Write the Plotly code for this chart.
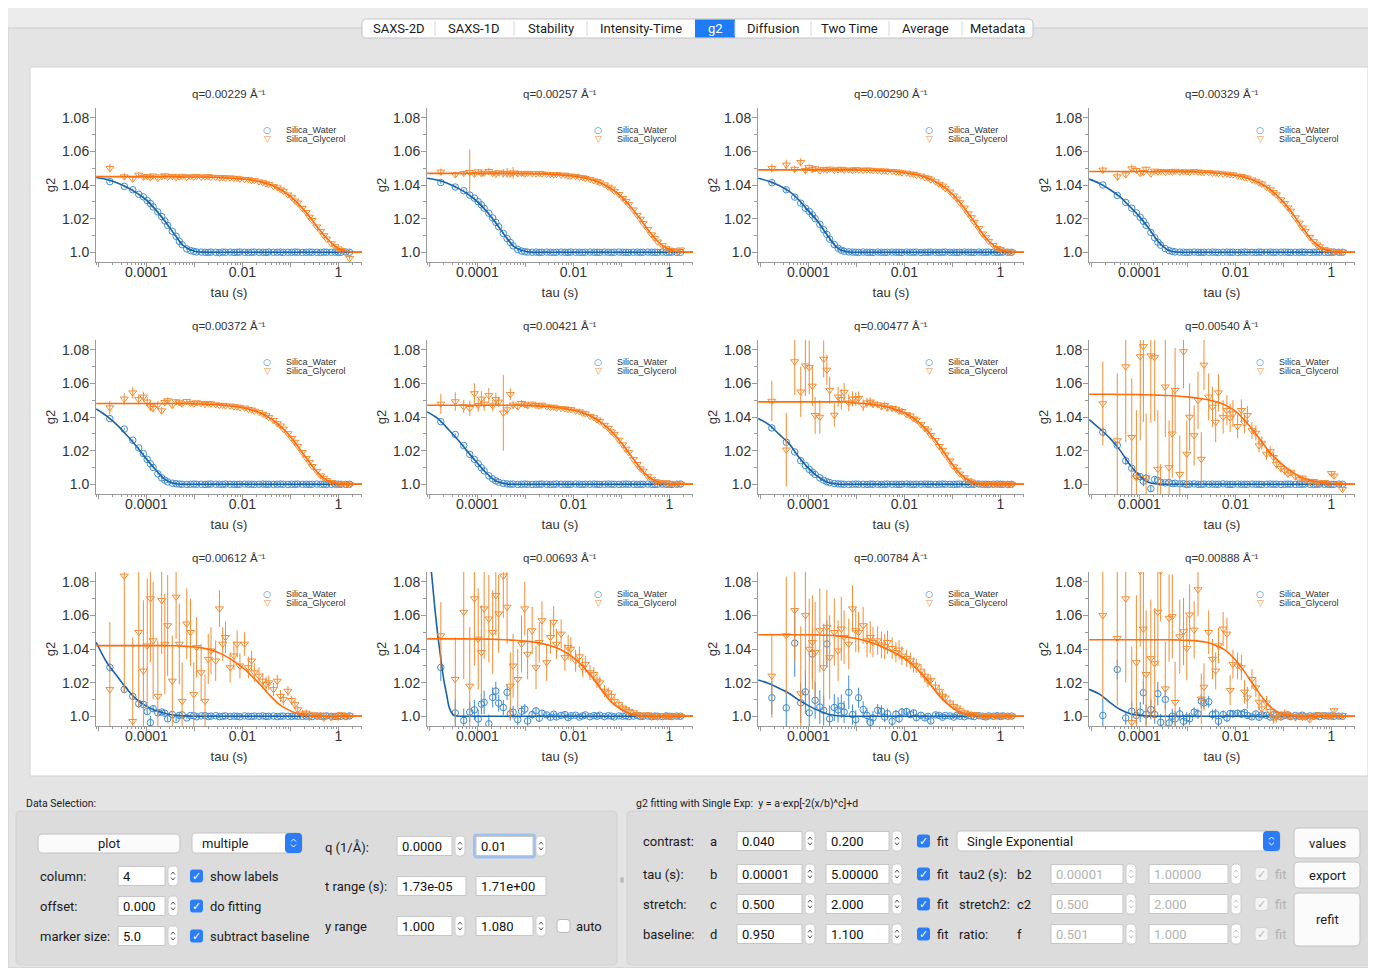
import plotly.graph_objects as go

# the browser keeps its 8 px body margin, the figure fills the rest of the 1376x968 window
OFF = 8
W, H = 1368, 960

# ---------------------------------------------------------------- data
# multi-tau lag times (s)
TAU = [1.73e-5, 3.46e-5, 5.19e-5, 6.92e-5, 8.65e-5, 1.04e-4, 1.21e-4, 1.38e-4,
       1.73e-4, 2.08e-4, 2.42e-4, 2.77e-4, 3.46e-4, 4.15e-4, 4.84e-4, 5.54e-4,
       6.92e-4, 8.30e-4, 9.69e-4, 1.11e-3, 1.38e-3, 1.66e-3, 1.94e-3, 2.21e-3,
       2.77e-3, 3.32e-3, 3.88e-3, 4.43e-3, 5.54e-3, 6.64e-3, 7.75e-3, 8.86e-3,
       1.11e-2, 1.33e-2, 1.55e-2, 1.77e-2, 2.21e-2, 2.66e-2, 3.10e-2, 3.54e-2,
       4.43e-2, 5.31e-2, 6.20e-2, 7.09e-2, 8.86e-2, 0.106, 0.124, 0.142,
       0.177, 0.213, 0.248, 0.283, 0.354, 0.425, 0.496, 0.567,
       0.709, 0.850, 0.992, 1.13, 1.42, 1.70]

# times at which the fitted curves were sampled (s)
FIT_TAU = [9e-6, 1.5e-5, 2.5e-5, 4e-5, 6e-5, 1e-4, 1.5e-4, 2.5e-4, 4e-4, 6e-4,
           1e-3, 1.5e-3, 2.5e-3, 4e-3, 6e-3, 1e-2, 1.5e-2, 2.5e-2, 4e-2, 6e-2,
           0.1, 0.15, 0.25, 0.4, 0.6, 1.0, 1.5, 2.5, 3.2]
W10_FIT_TAU = [9e-6, 1.1e-5, 1.3e-5, 1.5e-5, 1.75e-5, 2e-5, 2.3e-5, 2.6e-5, 3e-5,
               3.5e-5, 4.5e-5, 1e-4, 3.2]

Q_LABELS = ['0.00229', '0.00257', '0.00290', '0.00329', '0.00372', '0.00421',
            '0.00477', '0.00540', '0.00612', '0.00693', '0.00784', '0.00888']

# all g2 values below are (g2 - 1) in units of 1e-4; W = Silica_Water, G = Silica_Glycerol
W1 = [420, 392, 372, 345, 330, 308, 290, 270, 240, 212, 186, 160, 125, 95, 65, 45, 20, 10, 5, 2,
      1, 0, -1, 1, 0, -2, 1, 0, 1, -1, 0, 1, 0, -1, 0, 1, 0, 0, -1, 1,
      0, 0, 1, -1, 0, 0, 1, 0, -1, 0, 1, 0, 0, -1, 1, 0, 0, 1, -1, 0, 1, 0]
W1_ERR = 6
W1_FIT = [445, 433, 412, 385, 356, 310, 258, 180, 100, 38, 6, 1, 0, 0, 0,
          0, 0, 0, 0, 0, 0, 0, 0, 0, 0, 0, 0, 0, 0]
G1 = [500, 450, 436, 460, 448, 452, 444, 455, 440, 450, 456, 447, 452, 445, 449, 453, 446, 450, 448, 452,
      447, 449, 451, 446, 447, 443, 446, 442, 444, 440, 441, 436, 434, 433, 428, 427, 420, 415, 408, 404,
      392, 385, 373, 364, 342, 328, 306, 294, 262, 238, 210, 190, 152, 126, 100, 80, 52, 34, 21, 12, 5, -36]
G1_ERR = [25, 20, 18, 15, 15, 12, 12, 10, 10, 8, 8, 8, 8, 8, 8, 8, 6, 6, 6, 6,
          6, 6, 6, 6, 5, 5, 5, 5, 5, 5, 5, 5, 5, 5, 5, 5, 4, 4, 4, 4,
          4, 4, 4, 4, 4, 4, 4, 4, 4, 4, 4, 4, 4, 4, 4, 4, 4, 4, 4, 4, 4, 8]
G1_FIT = [450, 450, 450, 450, 450, 450, 450, 449, 449, 448, 448, 447, 446, 444, 440,
          435, 430, 417, 399, 375, 333, 285, 211, 134, 77, 22, 5, 0, 0]

W2 = [415, 388, 366, 340, 322, 300, 282, 262, 232, 204, 178, 152, 112, 82, 58, 38, 16, 7, 3, 1,
      0, 1, -1, 0, 1, 0, -1, 0, 1, 0, -1, 1, 0, 0, -1, 0, 1, 0, 0, -1,
      1, 0, -1, 0, 1, 0, 0, -1, 0, 1, -1, 0, 1, 0, 0, -1, 1, 0, 0, 1, -1, 0]
W2_ERR = 8
W2_FIT = [440, 428, 408, 380, 350, 300, 248, 168, 88, 30, 4, 0, 0, 0, 0,
          0, 0, 0, 0, 0, 0, 0, 0, 0, 0, 0, 0, 0, 0]
G2 = [478, 462, 470, 476, 465, 480, 468, 472, 482, 470, 466, 474, 469, 471, 467, 473, 468, 470, 466, 471,
      469, 468, 470, 467, 465, 463, 462, 464, 459, 460, 455, 454, 452, 446, 445, 440, 435, 426, 422, 414,
      402, 389, 378, 364, 345, 322, 304, 284, 253, 221, 198, 172, 137, 105, 84, 62, 40, 23, 14, 10, 8, 15]
G2_ERR = [20, 18, 15, 135, 15, 12, 14, 12, 20, 12, 10, 10, 25, 30, 20, 35, 20, 15, 12, 8,
          8, 8, 8, 8, 8, 8, 8, 8, 8, 8, 8, 4, 4, 4, 4, 4, 4, 4, 4, 4,
          4, 4, 4, 4, 4, 4, 4, 4, 4, 4, 4, 4, 4, 4, 4, 4, 4, 4, 4, 4, 4, 6]
G2_FIT = [469, 469, 469, 469, 469, 469, 469, 469, 469, 469, 468, 467, 466, 463, 459,
          453, 445, 430, 408, 380, 331, 277, 195, 115, 58, 15, 3, 0, 0]

W3 = [414, 372, 328, 292, 262, 243, 222, 200, 166, 134, 106, 78, 46, 24, 12, 6, 2, 1, 0, -1,
      1, 0, 0, -1, 1, 0, -1, 0, 1, 0, 0, -1, 1, 0, 0, 1, -1, 0, 0, 1,
      0, -1, 0, 1, 0, 0, -1, 0, 1, 0, 0, -1, 1, 0, 0, 1, 0, -1, 0, 1, 0, 0]
W3_ERR = 12
W3_FIT = [440, 422, 395, 362, 318, 245, 190, 100, 26, 4, 0, 0, 0, 0, 0,
          0, 0, 0, 0, 0, 0, 0, 0, 0, 0, 0, 0, 0, 0]
G3 = [500, 520, 495, 535, 488, 505, 492, 498, 485, 494, 490, 496, 488, 492, 495, 489, 491, 487, 493, 490,
      488, 491, 489, 487, 486, 483, 485, 481, 482, 478, 478, 473, 472, 466, 465, 459, 454, 445, 441, 431,
      420, 406, 395, 380, 360, 336, 318, 296, 264, 230, 207, 180, 143, 110, 88, 66, 42, 24, 17, 8, 5, 2]
G3_ERR = [25, 30, 20, 25, 20, 18, 15, 15, 10, 10, 10, 10, 10, 10, 10, 10, 7, 7, 7, 7,
          7, 7, 7, 7, 4, 4, 4, 4, 4, 4, 4, 4, 4, 4, 4, 4, 4, 4, 4, 4,
          4, 4, 4, 4, 4, 4, 4, 4, 4, 4, 4, 4, 4, 4, 4, 4, 4, 4, 4, 4, 4, 4]
G3_FIT = [490, 490, 490, 490, 490, 490, 490, 490, 490, 490, 490, 488, 487, 484, 480,
          473, 465, 449, 426, 397, 345, 289, 204, 120, 60, 15, 3, 0, 0]

W4 = [400, 338, 296, 262, 234, 208, 184, 160, 118, 86, 60, 42, 22, 10, 5, 2, 1, 0, -1, 0,
      1, 0, -1, 0, 0, 1, 0, -1, 0, 1, 0, 0, -1, 0, 1, 0, 0, -1, 1, 0,
      0, 1, -1, 0, 0, 1, 0, -1, 0, 0, 1, 0, -1, 0, 1, 0, 0, -1, 0, 1, 0, 0]
W4_ERR = 6
W4_FIT = [435, 408, 370, 328, 278, 212, 150, 62, 12, 1, 0, 0, 0, 0, 0,
          0, 0, 0, 0, 0, 0, 0, 0, 0, 0, 0, 0, 0, 0]
G4 = [490, 450, 462, 498, 488, 470, 476, 495, 466, 484, 478, 482, 476, 481, 478, 483, 477, 480, 479, 476,
      481, 478, 477, 476, 475, 471, 472, 469, 466, 466, 462, 461, 454, 452, 445, 442, 431, 424, 413, 407,
      388, 373, 356, 343, 313, 291, 265, 246, 206, 175, 146, 126, 90, 64, 45, 34, 17, 10, 5, 3, 1, 4]
G4_ERR = [20, 25, 20, 25, 15, 15, 12, 15, 8, 8, 8, 8, 8, 8, 8, 8, 6, 6, 6, 6,
          6, 6, 6, 6, 4, 4, 4, 4, 4, 4, 4, 4, 4, 4, 4, 4, 4, 4, 4, 4,
          4, 4, 4, 4, 4, 4, 4, 4, 4, 4, 4, 4, 4, 4, 4, 4, 4, 4, 4, 4, 4, 4]
G4_FIT = [480, 480, 480, 480, 480, 480, 480, 480, 480, 480, 479, 478, 476, 471, 466,
          457, 447, 426, 397, 361, 298, 235, 145, 70, 28, 4, 0, 0, 0]

W5 = [390, 328, 262, 216, 182, 148, 122, 100, 62, 38, 24, 14, 6, 3, 1, 0, -1, 0, 1, 0,
      0, -1, 0, 1, 0, 0, -1, 1, 0, 0, -1, 0, 1, 0, 0, -1, 0, 1, 0, 0,
      -1, 0, 1, 0, -1, 0, 0, 1, 0, 0, -1, 0, 1, 0, 0, -1, 0, 1, 0, 0, -1, 0]
W5_ERR = 6
W5_FIT = [448, 405, 350, 288, 230, 150, 92, 26, 3, 0, 0, 0, 0, 0, 0,
          0, 0, 0, 0, 0, 0, 0, 0, 0, 0, 0, 0, 0, 0]
G5 = [456, 508, 545, 505, 520, 490, 462, 452, 470, 438, 488, 498, 470, 492, 486, 478, 494, 483, 478, 486,
      481, 476, 482, 479, 474, 470, 471, 467, 467, 462, 461, 456, 454, 446, 443, 436, 429, 417, 409, 398,
      381, 362, 348, 329, 302, 274, 251, 227, 190, 155, 132, 107, 78, 51, 37, 23, 12, 7, 2, 4, 1, -2]
G5_ERR = [40, 35, 35, 30, 30, 30, 28, 25, 25, 22, 20, 18, 15, 15, 12, 12, 8, 8, 8, 8,
          8, 8, 8, 8, 5, 5, 5, 5, 5, 5, 5, 5, 5, 5, 5, 5, 4, 4, 4, 4,
          4, 4, 4, 4, 4, 4, 4, 4, 4, 4, 4, 4, 4, 4, 4, 4, 4, 4, 4, 4, 4, 4]
G5_FIT = [480, 480, 480, 480, 480, 480, 480, 480, 480, 480, 478, 477, 474, 470, 465,
          455, 443, 421, 389, 349, 283, 215, 129, 59, 21, 2, 0, 0, 0]

W6 = [372, 296, 230, 178, 148, 122, 98, 80, 50, 32, 20, 12, 5, 2, 0, 1, -1, 0, 1, 0,
      -1, 0, 0, 1, 0, -1, 0, 1, 0, 0, -1, 0, 1, 0, -1, 0, 0, 1, 0, -1,
      0, 1, 0, 0, -1, 0, 1, 0, 0, -1, 0, 0, 1, 0, -1, 0, 1, 0, 0, -1, 0, 1]
W6_ERR = 6
W6_FIT = [430, 390, 326, 262, 200, 125, 70, 18, 2, 0, 0, 0, 0, 0, 0,
          0, 0, 0, 0, 0, 0, 0, 0, 0, 0, 0, 0, 0, 0]
G6 = [478, 492, 462, 452, 540, 470, 508, 478, 528, 468, 505, 490, 425, 444, 535, 472, 462, 482, 474, 468,
      478, 470, 466, 472, 462, 458, 460, 454, 452, 450, 446, 445, 436, 432, 424, 420, 405, 397, 384, 375,
      352, 334, 313, 298, 264, 236, 210, 189, 148, 119, 93, 79, 47, 31, 18, 13, 8, 10, 4, 6, 3, 2]
G6_ERR = [60, 55, 40, 45, 60, 40, 45, 40, 45, 35, 40, 30, 225, 30, 35, 25, 20, 18, 15, 15,
          10, 10, 10, 10, 8, 8, 8, 8, 8, 8, 8, 8, 8, 8, 8, 8, 6, 6, 6, 6,
          6, 6, 6, 6, 6, 6, 6, 6, 6, 6, 6, 6, 6, 6, 6, 6, 6, 6, 6, 6, 6, 6]
G6_FIT = [470, 470, 470, 470, 470, 470, 470, 470, 470, 470, 469, 467, 464, 458, 452,
          440, 427, 400, 362, 318, 246, 178, 93, 36, 10, 1, 0, 0, 0]

W7 = [335, 250, 192, 140, 112, 88, 72, 58, 38, 24, 15, 10, 4, 2, 1, 0, -1, 0, 1, 0,
      0, -1, 1, 0, 0, -1, 0, 1, 0, 0, -1, 0, 1, 0, -1, 0, 0, 1, 0, 0,
      -1, 0, 1, 0, 0, -1, 0, 1, 0, -1, 0, 0, 1, 0, 0, -1, 0, 1, 0, 0, -1, 0]
W7_ERR = 8
W7_FIT = [392, 355, 295, 240, 170, 96, 50, 12, 1, 0, 0, 0, 0, 0, 0,
          0, 0, 0, 0, 0, 0, 0, 0, 0, 0, 0, 0, 0, 0]
G7 = [495, 205, 730, 550, 705, 695, 585, 410, 400, 745, 680, 560, 412, 520, 505, 548, 485, 508, 506, 512,
      470, 485, 490, 478, 474, 462, 470, 455, 452, 448, 436, 434, 415, 408, 390, 382, 356, 332, 318, 292,
      262, 226, 203, 176, 140, 105, 85, 62, 40, 22, 15, 8, 4, 2, 0, -2, 1, -1, 2, 0, 3, 1]
G7_ERR = [120, 220, 200, 150, 180, 160, 120, 110, 100, 110, 90, 80, 70, 60, 60, 55, 50, 45, 40, 40,
          35, 30, 28, 25, 20, 20, 20, 20, 20, 20, 20, 20, 14, 14, 14, 14, 14, 14, 14, 14,
          10, 10, 10, 10, 10, 10, 10, 10, 8, 8, 8, 8, 8, 8, 8, 8, 8, 8, 8, 8, 8, 8]
G7_FIT = [490, 490, 490, 490, 490, 490, 490, 490, 490, 489, 483, 480, 473, 463, 448,
          425, 395, 343, 276, 208, 118, 57, 14, 1, 0, 0, 0, 0, 0]

W8 = [310, 232, 140, 95, 52, 45, 18, 36, -26, 28, 22, 12, 8, 10, 4, 6, 2, 3, -2, 1,
      2, 0, -1, 1, 0, 1, -1, 0, 2, 0, -1, 0, 1, 0, 0, -1, 1, 0, 0, -1,
      0, 1, 0, 0, -1, 0, 1, 0, -1, 0, 0, 1, 0, -1, 0, 1, 0, 0, -1, 0, 1, 0]
W8_ERR = [30, 25, 25, 20, 25, 20, 30, 25, 20, 15, 15, 12, 10, 10, 8, 8, 6, 6, 6, 6,
          6, 6, 6, 6, 4, 4, 4, 4, 4, 4, 4, 4, 4, 4, 4, 4, 4, 4, 4, 4,
          4, 4, 4, 4, 4, 4, 4, 4, 4, 4, 4, 4, 4, 4, 4, 4, 4, 4, 4, 4, 4, 4]
W8_FIT = [385, 330, 270, 200, 125, 52, 14, 1, 0, 0, 0, 0, 0, 0, 0,
          0, 0, 0, 0, 0, 0, 0, 0, 0, 0, 0, 0, 0, 0]
G8 = [480, 260, 700, 280, 40, 760, 820, 40, 765, 755, 90, -180, 580, 100, 300, 560, 60, 790, 180, 400,
      290, 500, 150, 710, 520, 460, 370, 545, 400, 440, 395, 420, 345, 440, 365, 410, 320, 305, 230, 245,
      180, 195, 160, 120, 95, 80, 62, 70, 45, 30, 38, 22, 14, 18, 8, 5, 12, 4, 65, 50, 0, -30]
G8_ERR = [250, 400, 450, 350, 400, 500, 450, 380, 400, 380, 350, 300, 300, 280, 260, 250, 230, 220, 200, 200,
          180, 170, 160, 150, 140, 120, 120, 110, 100, 90, 85, 80, 70, 65, 60, 55, 50, 45, 40, 40,
          35, 32, 30, 28, 25, 22, 20, 20, 18, 16, 15, 15, 14, 13, 12, 12, 12, 12, 15, 15, 12, 12]
G8_FIT = [535, 535, 535, 534, 534, 533, 532, 530, 528, 525, 520, 514, 504, 490, 472,
          435, 385, 310, 232, 170, 112, 74, 38, 20, 11, 4, 1, 0, 0]

W9 = [290, 160, 118, 75, 70, 28, -38, 45, 20, 25, 18, -15, 10, -18, 5, 8, -10, 4, 3, -3,
      2, 4, -2, 1, 3, -2, 0, 2, -1, 1, 0, -3, 2, 0, -1, 1, 0, 2, -1, 0,
      1, -2, 0, 1, 0, -1, 2, 0, -1, 1, 0, -2, 1, 0, -1, 2, 0, -1, 1, 0, -1, 2]
W9_ERR = [25, 20, 20, 25, 25, 20, 40, 20, 18, 15, 15, 15, 12, 12, 10, 10, 8, 8, 8, 8,
          8, 8, 8, 8, 5, 5, 5, 5, 5, 5, 5, 5, 5, 5, 5, 5, 5, 5, 5, 5,
          5, 5, 5, 5, 5, 5, 5, 5, 5, 5, 5, 5, 5, 5, 5, 5, 5, 5, 5, 5, 5, 5]
W9_FIT = [440, 320, 235, 160, 105, 60, 36, 16, 6, 2, 0, 0, 0, 0, 0,
          0, 0, 0, 0, 0, 0, 0, 0, 0, 0, 0, 0, 0, 0]
G9 = [160, 835, -30, 500, 270, 420, 700, 450, 120, 690, 430, 540, 210, 710, 430, 90, 550, 500, 130, 410,
      260, 90, 340, 390, 330, 640, 430, 470, 290, 360, 430, 300, 430, 290, 330, 260, 240, 210, 190, 200,
      160, 210, 120, 100, 150, 95, 70, 40, 14, 20, -5, 10, 0, 8, -10, 5, -8, 3, -5, 10, 0, 5]
G9_ERR = [400, 700, 500, 450, 420, 400, 380, 350, 330, 320, 300, 300, 270, 250, 240, 230, 210, 200, 190, 180,
          170, 160, 150, 140, 120, 110, 100, 95, 90, 85, 80, 75, 70, 65, 60, 55, 50, 48, 45, 42,
          40, 38, 35, 32, 30, 28, 26, 24, 22, 20, 18, 17, 16, 15, 14, 14, 13, 13, 12, 12, 12, 12]
G9_FIT = [420, 420, 420, 420, 420, 420, 420, 420, 419, 417, 412, 405, 390, 365, 335,
          290, 245, 180, 115, 68, 32, 13, 3, 0, 0, 0, 0, 0, 0]

W10 = [290, 20, -25, 25, 38, -16, 72, 82, -45, 112, 150, 78, 52, 142, 14, 24, -20, 30, 42, -28,
       10, 32, -12, 18, 8, -6, 12, -4, 5, 10, -8, 3, 6, -5, 2, 8, -3, 4, 0, 6,
       -2, 3, 1, -4, 2, 0, 3, -2, 1, 4, -1, 0, 2, -3, 1, 0, -2, 2, 0, -1, 1, 0]
W10_ERR = [80, 80, 70, 60, 60, 55, 60, 70, 55, 60, 55, 50, 45, 45, 40, 38, 35, 32, 30, 28,
           25, 22, 20, 18, 15, 15, 15, 15, 15, 15, 15, 15, 12, 12, 12, 12, 12, 12, 12, 12,
           10, 10, 10, 10, 10, 10, 10, 10, 8, 8, 8, 8, 8, 8, 8, 8, 8, 8, 8, 8, 8, 8]
W10_FIT = [1100, 860, 640, 480, 330, 215, 125, 50, 14, 3, 0, 0, 0]
G10 = [480, 220, 620, 180, 700, 460, 380, 640, 580, 500, 720, 610, 835, 650, 180, 300, 220, 430, 640, 370,
       510, 290, 440, 570, 320, 470, 560, 430, 490, 350, 410, 400, 330, 355, 290, 310, 260, 250, 210, 200,
       150, 140, 120, 90, 70, 50, 40, 30, 22, 12, 8, 4, 10, 2, 5, -4, 6, 0, 3, -3, 2, 0]
G10_ERR = [200, 250, 400, 350, 400, 300, 280, 300, 260, 250, 240, 230, 250, 220, 200, 190, 180, 170, 160, 150,
           140, 130, 120, 115, 110, 100, 95, 90, 85, 80, 75, 70, 65, 60, 55, 50, 45, 42, 40, 38,
           35, 32, 30, 28, 26, 24, 22, 20, 18, 17, 16, 15, 14, 13, 13, 12, 12, 12, 12, 11, 11, 11]
G10_FIT = [460, 460, 460, 460, 460, 459, 459, 457, 455, 452, 447, 441, 429, 412, 390,
           349, 303, 229, 151, 87, 40, 15, 4, 0, 0, 0, 0, 0, 0]

W11 = [110, 50, 435, 80, 145, 20, 370, 95, 55, 35, 430, -15, 52, 38, 60, 25, 142, 10, -20, 110,
       40, 5, -36, -10, 35, 30, -5, 15, -30, 12, -15, 25, 28, 10, 20, -8, 6, -10, 0, -28,
       8, 5, -6, 4, 2, -5, 6, 0, -3, 4, 1, -2, 3, 0, -4, 2, 0, 3, -1, 2, 0, 1]
W11_ERR = [100, 110, 200, 120, 130, 110, 150, 110, 100, 90, 140, 80, 80, 75, 70, 65, 100, 60, 55, 60,
           50, 45, 40, 40, 38, 35, 30, 30, 28, 26, 25, 24, 22, 20, 20, 18, 17, 16, 15, 15,
           14, 13, 13, 12, 12, 11, 11, 10, 10, 10, 10, 9, 9, 9, 9, 9, 9, 8, 8, 8, 8, 8]
W11_FIT = [216, 195, 165, 135, 100, 63, 38, 14, 3, 0, 0, 0, 0, 0, 0,
           0, 0, 0, 0, 0, 0, 0, 0, 0, 0, 0, 0, 0, 0]
G11 = [240, 480, 630, 135, 600, 400, 440, 380, 510, 290, 530, 350, 500, 390, 520, 470, 430, 640, 510, 500,
       540, 450, 470, 440, 450, 425, 415, 440, 405, 380, 395, 360, 345, 330, 305, 300, 270, 240, 210, 215,
       175, 150, 120, 110, 80, 60, 50, 35, 22, 15, 10, 12, 4, 6, 0, 3, -2, 4, 1, 3, 0, 2]
G11_ERR = [250, 350, 300, 400, 350, 300, 280, 300, 250, 260, 220, 250, 200, 180, 190, 160, 150, 140, 130, 120,
           110, 100, 95, 90, 85, 80, 75, 70, 65, 60, 58, 55, 50, 48, 45, 42, 40, 38, 36, 34,
           32, 30, 28, 26, 24, 22, 20, 18, 17, 16, 15, 14, 14, 13, 13, 12, 12, 12, 11, 11, 11, 11]
G11_FIT = [485, 485, 485, 485, 485, 485, 484, 482, 478, 472, 462, 450, 430, 405, 380,
           345, 305, 240, 165, 105, 50, 22, 8, 2, 0, 0, 0, 0, 0]

W12 = [5, 278, -10, 30, 5, 25, 140, 10, 40, 10, 134, -36, 100, -40, 0, -15, 14, -30, -10, -15,
       24, 14, 90, 80, 86, 10, 14, -30, 10, -10, 16, 14, 18, 12, 22, 5, -4, 14, -6, 8,
       6, -5, 10, 3, -4, 5, 8, -2, 4, 0, 6, -3, 2, 0, 4, -2, 3, 1, 2, 0, 1, 0]
W12_ERR = [100, 60, 40, 60, 50, 60, 70, 60, 60, 55, 70, 50, 60, 50, 45, 45, 40, 40, 35, 35,
           30, 30, 40, 35, 35, 30, 30, 28, 25, 25, 22, 22, 20, 20, 18, 18, 16, 16, 15, 15,
           14, 14, 13, 13, 12, 12, 11, 11, 11, 10, 10, 10, 10, 9, 9, 9, 9, 9, 9, 8, 8, 8]
W12_FIT = [160, 130, 80, 40, 18, 5, 1, 0, 0, 0, 0, 0, 0, 0, 0,
           0, 0, 0, 0, 0, 0, 0, 0, 0, 0, 0, 0, 0, 0]
G12 = [600, 464, 700, -36, 320, 864, 520, 250, 344, 314, 620, 864, 164, 584, 594, 84, 474, 504, 404, 604,
       514, 754, 104, 174, 500, 340, 270, 420, 520, 490, 155, 310, 300, 290, 145, 110, 220, 170, 85, 45,
       80, 30, -10, -6, 2, 14, 4, 0, -8, 2, -6, 4, -20, 0, 6, 10, 4, 0, 2, 34, 4, 6]
G12_ERR = [500, 400, 500, 450, 400, 450, 400, 380, 350, 330, 320, 300, 280, 260, 250, 240, 220, 200, 190, 180,
           170, 160, 150, 140, 130, 120, 110, 105, 100, 95, 90, 85, 80, 75, 70, 65, 60, 55, 50, 45,
           40, 38, 35, 32, 30, 28, 26, 24, 22, 20, 18, 17, 16, 15, 14, 14, 13, 13, 12, 14, 12, 12]
G12_FIT = [455, 455, 455, 455, 455, 455, 455, 455, 455, 454, 452, 449, 440, 420, 395,
           335, 270, 178, 96, 44, 12, 3, 0, 0, 0, 0, 0, 0, 0]

PANELS = [
    (W1, W1_ERR, W1_FIT, FIT_TAU, G1, G1_ERR, G1_FIT),
    (W2, W2_ERR, W2_FIT, FIT_TAU, G2, G2_ERR, G2_FIT),
    (W3, W3_ERR, W3_FIT, FIT_TAU, G3, G3_ERR, G3_FIT),
    (W4, W4_ERR, W4_FIT, FIT_TAU, G4, G4_ERR, G4_FIT),
    (W5, W5_ERR, W5_FIT, FIT_TAU, G5, G5_ERR, G5_FIT),
    (W6, W6_ERR, W6_FIT, FIT_TAU, G6, G6_ERR, G6_FIT),
    (W7, W7_ERR, W7_FIT, FIT_TAU, G7, G7_ERR, G7_FIT),
    (W8, W8_ERR, W8_FIT, FIT_TAU, G8, G8_ERR, G8_FIT),
    (W9, W9_ERR, W9_FIT, FIT_TAU, G9, G9_ERR, G9_FIT),
    (W10, W10_ERR, W10_FIT, W10_FIT_TAU, G10, G10_ERR, G10_FIT),
    (W11, W11_ERR, W11_FIT, FIT_TAU, G11, G11_ERR, G11_FIT),
    (W12, W12_ERR, W12_FIT, FIT_TAU, G12, G12_ERR, G12_FIT),
]

# ---------------------------------------------------------------- styling
BLUE_MK, BLUE_LN = '#3d8bd0', '#1a62a8'
ORNG_MK, ORNG_LN = '#f48c33', '#ff6d0d'
AX = '#9a9a9a'
PLOT_FONT = 'Liberation Sans, Arial, sans-serif'
UI_FONT = 'Roboto, Liberation Sans, sans-serif'

COL_X = [96, 427, 758, 1089]   # left edge of each plot column (window px)
ROW_Y = [108, 340, 572]        # top edge of each plot row (window px)
PW, PH = 266, 154

shapes, notes = [], []


def fx(x):
    return (x - OFF) / W


def fy(y):
    return 1 - (y - OFF) / H


def g2(vals):
    return [1 + v * 1e-4 for v in vals]


def err_bars(e, color):
    if isinstance(e, list):
        return dict(type='data', array=[v * 1e-4 for v in e], width=0, thickness=1, color=color)
    return dict(type='constant', value=e * 1e-4, width=0, thickness=1, color=color)


def text(x, y, s, size=13, color='#1b1b1b', anchor='left', font=UI_FONT):
    notes.append(dict(x=fx(x), y=fy(y), xref='paper', yref='paper', text=s, showarrow=False,
                      xanchor=anchor, yanchor='middle', font=dict(family=font, size=size, color=color)))


def rrect(x0, y0, x1, y1, fill, line=None, r=0, lw=1):
    ln = dict(color=line, width=lw) if line else dict(width=0)
    if not r:
        shapes.append(dict(type='rect', xref='paper', yref='paper', x0=fx(x0), x1=fx(x1),
                           y0=fy(y1), y1=fy(y0), fillcolor=fill, line=ln, layer='below'))
        return
    p = lambda x, y: f'{fx(x):.5f},{fy(y):.5f}'
    path = (f'M{p(x0 + r, y0)} L{p(x1 - r, y0)} Q{p(x1, y0)} {p(x1, y0 + r)} '
            f'L{p(x1, y1 - r)} Q{p(x1, y1)} {p(x1 - r, y1)} L{p(x0 + r, y1)} '
            f'Q{p(x0, y1)} {p(x0, y1 - r)} L{p(x0, y0 + r)} Q{p(x0, y0)} {p(x0 + r, y0)} Z')
    shapes.append(dict(type='path', path=path, xref='paper', yref='paper', fillcolor=fill,
                       line=ln, layer='below'))


def polyline(pts, color, lw=1):
    path = 'M' + ' L'.join(f'{fx(x):.5f},{fy(y):.5f}' for x, y in pts)
    shapes.append(dict(type='path', path=path, xref='paper', yref='paper',
                       line=dict(color=color, width=lw), layer='below'))


def chevrons(cx, cy, color, s=2.5):
    polyline([(cx - s, cy - 1.5), (cx, cy - 4), (cx + s, cy - 1.5)], color)
    polyline([(cx - s, cy + 1.5), (cx, cy + 4), (cx + s, cy + 1.5)], color)


def field(x0, x1, yc, s, disabled=False, focus=False):
    if focus:
        rrect(x0 - 3, yc - 12.5, x1 + 3, yc + 12.5, '#9fc1f0', r=4)
    rrect(x0, yc - 9.5, x1, yc + 9.5, '#ffffff', line='#c6c6c6')
    text(x0 + 3, yc, s, color='#b2b2b2' if disabled else '#111111')


def stepper(x0, yc, disabled=False):
    rrect(x0, yc - 10, x0 + 10, yc + 10, '#ffffff', line='#cbcbcb', r=4)
    chevrons(x0 + 5, yc, '#c0c0c0' if disabled else '#555555', 2)


def checkbox(x0, yc, state='on', label=None, lx=None):
    if state == 'on':
        rrect(x0, yc - 6.5, x0 + 13, yc + 6.5, '#2c7ef6', r=3)
        text(x0 + 6.5, yc, '✓', size=11, color='#ffffff', anchor='center', font='DejaVu Sans')
    elif state == 'dis':
        rrect(x0, yc - 6.5, x0 + 13, yc + 6.5, '#f4f4f4', line='#d4d4d4', r=3)
        text(x0 + 6.5, yc, '✓', size=11, color='#b9b9b9', anchor='center', font='DejaVu Sans')
    else:
        rrect(x0, yc - 6.5, x0 + 13, yc + 6.5, '#ffffff', line='#b8b8b8', r=3)
    if label:
        text(lx if lx else x0 + 18, yc, label, color='#b2b2b2' if state == 'dis' else '#1b1b1b')


def button(x0, x1, y0, y1, s):
    rrect(x0, y0, x1, y1, '#fbfbfb', line='#c2c2c2', r=5)
    text((x0 + x1) / 2, (y0 + y1) / 2, s, anchor='center')


def combo(x0, x1, yc, s):
    rrect(x0, yc - 10, x1, yc + 10, '#ffffff', line='#c4c4c4', r=4)
    rrect(x1 - 17, yc - 10, x1, yc + 10, '#2b7cf6', r=4)
    chevrons(x1 - 8.5, yc, '#ffffff', 2.5)
    text(x0 + 8, yc, s)


# ---------------------------------------------------------------- window chrome
rrect(8, 28, 1376, 968, '#e4e4e4', line='#cdcdcd')                 # tab pane
rrect(30, 67, 1368, 776, '#ffffff', line='#d4d4d4')                # plot canvas
rrect(16, 811, 617, 965, '#dcdcdc', line='#d2d2d2', r=5)          # data selection group
rrect(627, 811, 1372, 965, '#dcdcdc', line='#d2d2d2', r=5)        # fitting group
rrect(620, 877, 624, 883, '#bdbdbd', r=2)                          # splitter handle

TABS = [('SAXS-2D', 362, 435), ('SAXS-1D', 435, 514), ('Stability', 514, 587),
        ('Intensity-Time', 587, 695), ('g2', 695, 735), ('Diffusion', 735, 811),
        ('Two Time', 811, 889), ('Average', 889, 962), ('Metadata', 962, 1033)]
rrect(362, 19, 1033, 38, '#ffffff', line='#c3c3c3', r=4)
for name, a, b in TABS:
    if name == 'g2':
        rrect(a, 19.5, b, 37.5, '#1e7cf6')
    elif a > 362:
        polyline([(a, 21), (a, 36)], '#d6d6d6')
    text((a + b) / 2, 28.5, name, size=13, color='#ffffff' if name == 'g2' else '#1b1b1b', anchor='center')

# data selection group
text(24, 803, 'Data Selection:', size=10.5)
button(38, 180, 834, 853, 'plot')
combo(192, 302, 843, 'multiple')
for lab, val, chk, yc in [('column:', '4', 'show labels', 876), ('offset:', '0.000', 'do fitting', 906),
                          ('marker size:', '5.0', 'subtract baseline', 936)]:
    text(38, yc, lab)
    field(118, 165, yc, val)
    stepper(168, yc)
    checkbox(190, yc, 'on', chk)
text(323, 847, 'q (1/Å):')
field(397, 452, 846, '0.0000')
stepper(455, 846)
field(476, 533, 846, '0.01', focus=True)
stepper(536, 846)
text(323, 886, 't range (s):')
field(397, 466, 886, '1.73e-05')
field(476, 546, 886, '1.71e+00')
text(323, 926, 'y range')
field(397, 452, 926, '1.000')
stepper(455, 926)
field(476, 533, 926, '1.080')
stepper(536, 926)
checkbox(557, 926, 'off', 'auto', 574)

# fitting group
text(634, 803, 'g2 fitting with Single Exp:  y = a·exp[-2(x/b)^c]+d', size=10.5)
FIT_ROWS = [('contrast:', 'a', '0.040', '0.200', 841), ('tau (s):', 'b', '0.00001', '5.00000', 874),
            ('stretch:', 'c', '0.500', '2.000', 904), ('baseline:', 'd', '0.950', '1.100', 934)]
for lab, sym, lo, hi, yc in FIT_ROWS:
    text(641, yc, lab)
    text(708, yc, sym)
    field(737, 802, yc, lo)
    stepper(805, yc)
    field(826, 889, yc, hi)
    stepper(892, yc)
    checkbox(917, yc, 'on', 'fit')
combo(957, 1280, 841, 'Single Exponential')
SECOND = [('tau2 (s):', 'b2', '0.00001', '1.00000', 874), ('stretch2:', 'c2', '0.500', '2.000', 904),
          ('ratio:', 'f', '0.501', '1.000', 934)]
for lab, sym, lo, hi, yc in SECOND:
    text(957, yc, lab)
    text(1015, yc, sym)
    field(1051, 1123, yc, lo, disabled=True)
    stepper(1126, yc, disabled=True)
    field(1149, 1228, yc, hi, disabled=True)
    stepper(1231, yc, disabled=True)
    checkbox(1255, yc, 'dis', 'fit')
button(1294, 1360, 828, 858, 'values')
button(1294, 1360, 862, 888, 'export')
button(1294, 1360, 893, 946, 'refit')

# ---------------------------------------------------------------- g2 panels
fig = go.Figure()
X_MINOR = [m * 10.0 ** e for e in range(-6, 1) for m in range(2, 10)]
layout_axes = {}

for i, (w, we, wf, wft, g, ge, gf) in enumerate(PANELS):
    assert len(w) == len(TAU) and len(g) == len(TAU), i
    assert len(wf) == len(wft) and len(gf) == len(FIT_TAU), i
    r, c = divmod(i, 4)
    n = '' if i == 0 else str(i + 1)
    x0, y0 = COL_X[c], ROW_Y[r]

    fig.add_trace(go.Scatter(x=TAU, y=g2(w), mode='markers', xaxis='x' + n, yaxis='y' + n,
                             marker=dict(symbol='circle-open', size=6.5, color=BLUE_MK, line=dict(width=1)),
                             error_y=err_bars(we, BLUE_MK), showlegend=False))
    fig.add_trace(go.Scatter(x=wft, y=g2(wf), mode='lines', xaxis='x' + n, yaxis='y' + n,
                             line=dict(color=BLUE_LN, width=1.6, shape='spline'), showlegend=False))
    fig.add_trace(go.Scatter(x=TAU, y=g2(g), mode='markers', xaxis='x' + n, yaxis='y' + n,
                             marker=dict(symbol='triangle-down-open', size=7, color=ORNG_MK, line=dict(width=1)),
                             error_y=err_bars(ge, ORNG_MK), showlegend=False))
    fig.add_trace(go.Scatter(x=FIT_TAU, y=g2(gf), mode='lines', xaxis='x' + n, yaxis='y' + n,
                             line=dict(color=ORNG_LN, width=1.6, shape='spline'), showlegend=False))

    layout_axes['xaxis' + n] = dict(
        type='log', range=[-5.05, 0.49], domain=[fx(x0), fx(x0 + PW)], anchor='y' + n,
        showline=True, linecolor=AX, linewidth=1, showgrid=False, zeroline=False,
        ticks='outside', ticklen=4, tickcolor=AX, ticklabelstandoff=-7,
        tickvals=[1e-5, 1e-4, 1e-3, 1e-2, 1e-1, 1], ticktext=['', '0.0001', '', '0.01', '', '1'],
        tickfont=dict(family=PLOT_FONT, size=14, color='#333333'),
        minor=dict(tickvals=X_MINOR, ticks='outside', ticklen=2, tickcolor=AX, showgrid=False),
        title=dict(text='tau (s)', standoff=9, font=dict(family=PLOT_FONT, size=13, color='#333333')))
    layout_axes['yaxis' + n] = dict(
        range=[0.9942, 1.0858], domain=[fy(y0 + PH), fy(y0)], anchor='x' + n,
        showline=True, linecolor=AX, linewidth=1, showgrid=False, zeroline=False,
        ticks='outside', ticklen=5, tickcolor=AX, ticklabelstandoff=-2,
        tickvals=[1.0, 1.02, 1.04, 1.06, 1.08], ticktext=['1.0', '1.02', '1.04', '1.06', '1.08'],
        tickfont=dict(family=PLOT_FONT, size=14, color='#333333'),
        minor=dict(tickvals=[1.01, 1.03, 1.05, 1.07], ticks='outside', ticklen=3, tickcolor=AX),
        title=dict(text='g2', standoff=3, font=dict(family=PLOT_FONT, size=13, color='#333333')))

    # panel title and the small in-plot legend
    text(x0 + PW / 2, y0 - 14, f'q={Q_LABELS[i]} Å⁻¹', size=11.5, color='#333333', anchor='center',
         font=PLOT_FONT)
    text(x0 + 171, y0 + 22, '○', size=9, color=BLUE_MK, anchor='center', font='DejaVu Sans')
    text(x0 + 171, y0 + 31, '▽', size=9, color=ORNG_MK, anchor='center', font='DejaVu Sans')
    text(x0 + 188, y0 + 22, 'Silica_Water', size=9, color='#333333', font=PLOT_FONT)
    text(x0 + 188, y0 + 31, 'Silica_Glycerol', size=9, color='#333333', font=PLOT_FONT)

fig.update_layout(
    width=W, height=H, margin=dict(l=0, r=0, t=0, b=0), autosize=False,
    paper_bgcolor='#ececec', plot_bgcolor='rgba(0,0,0,0)', showlegend=False,
    shapes=shapes, annotations=notes, **layout_axes)

fig.write_html('out.html')
